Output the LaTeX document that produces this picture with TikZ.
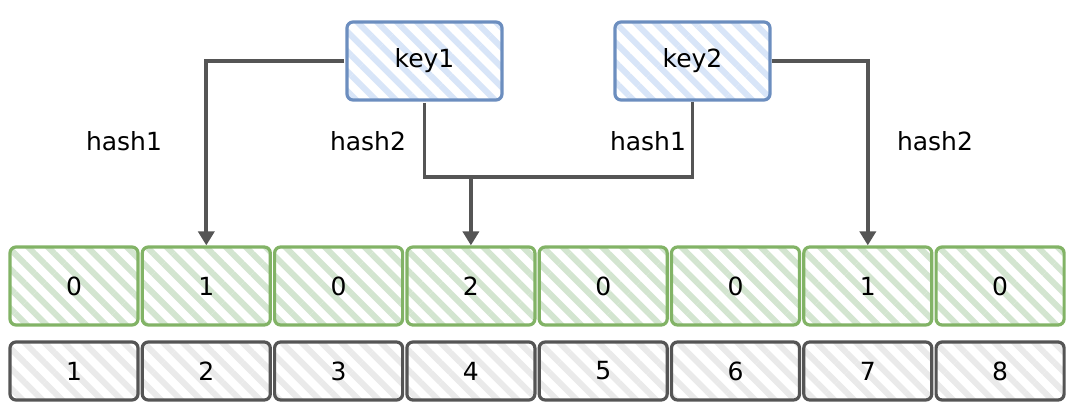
\documentclass[tikz,border=0pt]{standalone}
\usepackage{fontspec}
\setmainfont{DejaVu Sans}
\usetikzlibrary{arrows.meta,patterns.meta}
\definecolor{keyb}{HTML}{6C8EBF}
\definecolor{keyf}{HTML}{D8E5F8}
\definecolor{cellb}{HTML}{82B366}
\definecolor{cellf}{HTML}{D3E5D0}
\definecolor{idxb}{HTML}{555555}
\definecolor{idxf}{HTML}{EAEAEA}
\definecolor{wire}{HTML}{555555}
\tikzset{
  hatchbox/.style={rounded corners=6pt, line width=3.2pt, inner sep=0pt,
    font=\fontsize{25}{27}\selectfont,
    preaction={fill=white},
    pattern={Lines[angle=-45,distance=14pt,line width=6pt]}},
  keybox/.style={hatchbox, draw=keyb, pattern color=keyf, minimum width=155pt, minimum height=78pt},
  cellbox/.style={hatchbox, draw=cellb, pattern color=cellf, minimum width=128pt, minimum height=78pt},
  idxbox/.style={hatchbox, draw=idxb, pattern color=idxf, minimum width=128pt, minimum height=58pt},
  wireline/.style={draw=wire, line width=3.8pt},
  arrowline/.style={wireline, -{Triangle[width=16pt,length=14pt]}},
  hlabel/.style={font=\fontsize{25}{27}\selectfont, inner sep=1pt}
}
\begin{document}
\begin{tikzpicture}[x=1pt,y=-1pt]
\useasboundingbox (0,0) rectangle (1084,417);
% keys
\node[keybox] (k1) at (424.5,61) {key1};
\node[keybox] (k2) at (692.5,61) {key2};
% bit cells
\foreach \i/\v in {1/0,2/1,3/0,4/2,5/0,6/0,7/1,8/0}{
  \node[cellbox] (c\i) at ({74+(\i-1)*132.3},286) {\v};
  \node[idxbox] (d\i) at ({74+(\i-1)*132.3},371) {\i};
}
% connectors
\coordinate (j) at (c4.north |- 0,177);
\draw[arrowline] (k1.west) -| (c2.north);
\draw[arrowline] (k2.east) -| (c7.north);
\draw[wireline] (k1.south) |- (j);
\draw[wireline] (k2.south) |- (j);
\draw[arrowline] (j) -- (c4.north);
% labels
\node[hlabel] (l1) at (124,141) {hash1};
\node[hlabel] (l2) at (368,141) {hash2};
\node[hlabel] (l3) at (648,141) {hash1};
\node[hlabel] (l4) at (935,141) {hash2};
\end{tikzpicture}
\end{document}
